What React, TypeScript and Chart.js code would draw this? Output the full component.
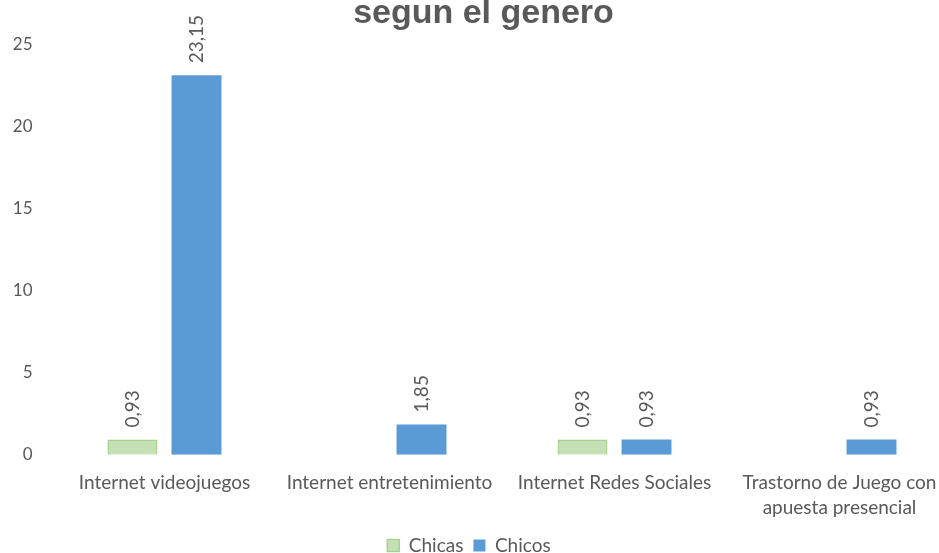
import React, { useEffect, useRef } from "react";
import { Chart, registerables } from "chart.js";

Chart.register(...registerables);

const categories: (string | string[])[] = [
  "Internet videojuegos",
  "Internet entretenimiento",
  "Internet Redes Sociales",
  ["Trastorno de Juego con", "apuesta presencial"],
];
const chicas: (number | null)[] = [0.93, null, 0.93, null];
const chicos: (number | null)[] = [23.15, 1.85, 0.93, 0.93];
const yTicks = [0, 5, 10, 15, 20, 25];
const titleText = "segun el genero";

const TEXT = "#595959";
const FONT = "Lato";

const labelPlugin = {
  id: "barLabels",
  afterDatasetsDraw(chart: any) {
    const ctx = chart.ctx;
    chart.data.datasets.forEach((ds: any, di: number) => {
      const meta = chart.getDatasetMeta(di);
      meta.data.forEach((el: any, i: number) => {
        const v = ds.data[i];
        if (v === null || v === undefined) return;
        ctx.save();
        ctx.translate(el.x, el.y - 12);
        ctx.rotate(-Math.PI / 2);
        ctx.font = `19px ${FONT}`;
        ctx.fillStyle = TEXT;
        ctx.textAlign = "left";
        ctx.textBaseline = "middle";
        ctx.fillText(v.toFixed(2).replace(".", ","), 0, 0);
        ctx.restore();
      });
    });
  },
};

const titlePlugin = {
  id: "cutTitle",
  afterDraw(chart: any) {
    const ctx = chart.ctx;
    ctx.save();
    ctx.font = `bold 34px "Liberation Sans"`;
    ctx.fillStyle = TEXT;
    ctx.textAlign = "center";
    ctx.textBaseline = "alphabetic";
    ctx.fillText(titleText, 497.5, 26);
    ctx.restore();
  },
};

export default function App() {
  const ref = useRef<HTMLCanvasElement>(null);
  useEffect(() => {
    document.body.style.margin = "0";
    document.body.style.overflow = "hidden";
    const chart = new Chart(ref.current!, {
      type: "bar",
      data: {
        labels: categories as any,
        datasets: [
          {
            label: "Chicas",
            data: chicas,
            backgroundColor: "#c5e0b4",
            borderColor: "#a9d18e",
            borderWidth: 1.5,
            categoryPercentage: 0.569,
            barPercentage: 0.78,
          },
          {
            label: "Chicos",
            data: chicos,
            backgroundColor: "#5b9bd5",
            borderColor: "#5b9bd5",
            borderWidth: 0,
            categoryPercentage: 0.569,
            barPercentage: 0.78,
          },
        ],
      },
      options: {
        responsive: false,
        animation: false,
        layout: { padding: { top: 48, left: 0, right: 0, bottom: 0 } },
        plugins: {
          title: { display: false },
          legend: {
            position: "bottom",
            labels: {
              boxWidth: 12,
              boxHeight: 12,
              padding: 10,
              color: TEXT,
              font: { family: FONT, size: 19 },
            },
          },
          tooltip: { enabled: false },
        },
        scales: {
          x: {
            grid: { display: false, drawTicks: false },
            border: { display: false },
            ticks: {
              color: TEXT,
              font: { family: FONT, size: 19, lineHeight: 1.32 },
              padding: 15.5,
              maxRotation: 0,
              autoSkip: false,
            },
            afterFit: (s: any) => {
              s.height = 71.2;
            },
          },
          y: {
            min: 0,
            max: 25,
            afterBuildTicks: (s: any) => {
              s.ticks = yTicks.map((v) => ({ value: v }));
            },
            grid: { display: false, drawTicks: false },
            border: { display: false },
            ticks: {
              color: TEXT,
              font: { family: FONT, size: 17 },
              padding: 19.5,
            },
            afterFit: (s: any) => {
              s.width = 66;
            },
          },
        },
      },
      plugins: [labelPlugin, titlePlugin],
    });
    return () => chart.destroy();
  }, []);
  return (
    <div
      style={{
        position: "fixed",
        left: 0,
        top: 0,
        width: 939,
        height: 553,
        overflow: "hidden",
        background: "#fff",
      }}
    >
      <canvas
        ref={ref}
        width={966}
        height={568}
        style={{ position: "absolute", left: -14, top: -3, width: 966, height: 568 }}
      />
    </div>
  );
}
